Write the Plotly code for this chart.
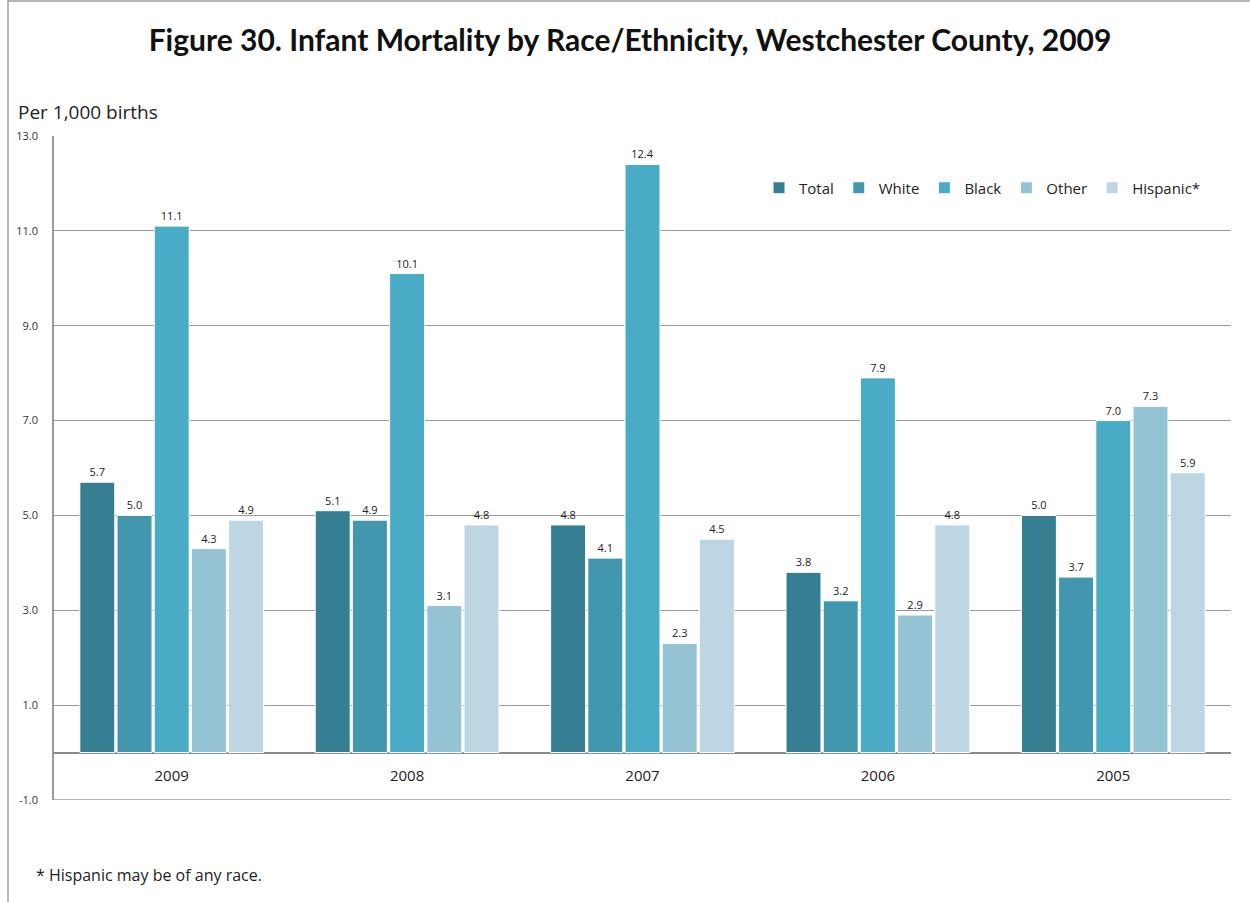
import plotly.graph_objects as go

years = ["2009", "2008", "2007", "2006", "2005"]
series_names = ["Total", "White", "Black", "Other", "Hispanic*"]
total = [5.7, 5.1, 4.8, 3.8, 5.0]
white = [5.0, 4.9, 4.1, 3.2, 3.7]
black = [11.1, 10.1, 12.4, 7.9, 7.0]
other = [4.3, 3.1, 2.3, 2.9, 7.3]
hispanic = [4.9, 4.8, 4.5, 4.8, 5.9]
colors = ["#367f93", "#4296ae", "#4aabc6", "#94c3d4", "#bcd7e3"]
y_ticks = [-1, 1, 3, 5, 7, 9, 11, 13]

fig = go.Figure()
for name, vals, col in zip(series_names, [total, white, black, other, hispanic], colors):
    fig.add_trace(go.Bar(
        x=years, y=vals, name=name,
        marker=dict(color=col, line=dict(color="white", width=1)),
        text=[f"{v:.1f}" for v in vals], textposition="outside",
        textfont=dict(size=11, color="#222222", family="Open Sans"),
        cliponaxis=False,
    ))

PW, PH = 1177, 664  # plot area size in px
fig.update_layout(
    width=1250, height=902,
    margin=dict(l=54, r=19, t=136, b=102, autoexpand=False),
    paper_bgcolor="white", plot_bgcolor="white",
    barmode="group", bargap=0.21, bargroupgap=0.06,
    font=dict(family="Open Sans", color="#222222"),
    title=dict(text="<b>Figure 30. Infant Mortality by Race/Ethnicity, Westchester County, 2009</b>",
               x=0.504, xanchor="center", y=1 - 40 / 902, yanchor="middle",
               font=dict(family="Lato", size=30, color="#111111")),
    legend=dict(orientation="h", x=(1206 - 54) / PW, xanchor="right",
                y=(800 - 188) / PH, yanchor="middle",
                font=dict(size=15, family="Open Sans", color="#222222"),
                itemwidth=30, tracegroupgap=0, bgcolor="rgba(0,0,0,0)"),
    showlegend=True,
)
fig.update_yaxes(range=[-1, 13], tickvals=y_ticks, ticktext=[f"{v:.1f}" for v in y_ticks],
                 showgrid=True, gridcolor="#9a9a9a", gridwidth=1.2,
                 zeroline=True, zerolinecolor="#8a8a8a", zerolinewidth=1.5,
                 showline=True, linecolor="#9a9a9a", linewidth=1.5,
                 ticks="", ticklabelstandoff=12,
                 tickfont=dict(size=11, color="#333333", family="Open Sans"))
fig.update_xaxes(type="category", anchor="free", position=1/14, showline=False,
                 showgrid=False, ticks="", ticklabelstandoff=12,
                 tickfont=dict(size=15, color="#222222", family="Open Sans"))

# bottom gridline at the axis minimum
fig.add_shape(type="line", xref="paper", yref="y", x0=0, x1=1, y0=-1, y1=-1,
              line=dict(color="#9a9a9a", width=1.5))

fig.add_annotation(text="Per 1,000 births", xref="paper", yref="paper",
                   x=(16 - 54) / PW, y=(800 - 112) / PH, xanchor="left", yanchor="middle",
                   showarrow=False, font=dict(size=19, color="#222222", family="Open Sans"))
fig.add_annotation(text="* Hispanic may be of any race.", xref="paper", yref="paper",
                   x=(34 - 54) / PW, y=(800 - 875) / PH, xanchor="left", yanchor="middle",
                   showarrow=False, font=dict(size=16, color="#222222", family="Open Sans"))
# outer frame lines
fig.add_shape(type="line", xref="paper", yref="paper", x0=(8 - 54) / PW, x1=(8 - 54) / PW,
              y0=(800 - 0) / PH, y1=(800 - 902) / PH, line=dict(color="#a0a0a0", width=1.5))
fig.add_shape(type="line", xref="paper", yref="paper", x0=(8 - 54) / PW, x1=(1250 - 54) / PW,
              y0=(800 - 1) / PH, y1=(800 - 1) / PH, line=dict(color="#a0a0a0", width=1.5))

fig.write_html("out.html", config={"displayModeBar": False},
               post_script="document.body.style.margin='0';document.body.style.overflow='hidden';")
